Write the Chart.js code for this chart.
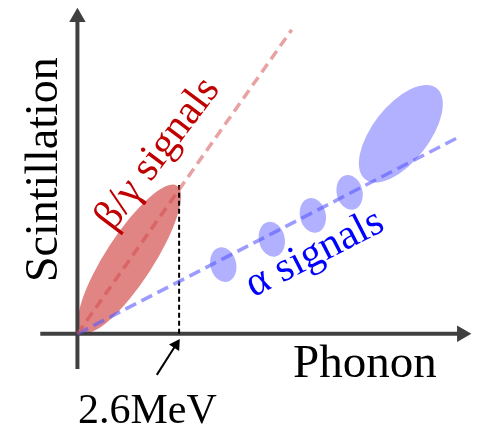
<!DOCTYPE html>
<html lang="en">
<head>
    <meta charset="UTF-8">
    <script src="https://cdn.jsdelivr.net/npm/chart.js"></script>
    <title>Scintillation vs Phonon</title>
    <style>
        body { margin: 0; background: #fff; }
    </style>
</head>
<body>
    <canvas id="grafico" width="481" height="430"></canvas>
</body>
</html>
<script>
    // data units: origin of the axes at (0,0), x in MeV-ish units
    const eixoX = [-0.95, 9.83];
    const eixoY = [-0.9, 8.1];

    const betaX = [0, 5.48];
    const betaY = [0, 7.78];
    const alfaX = [0, 9.71];
    const alfaY = [0, 5.01];

    const corte = 2.6;        // 2.6MeV
    const corteTopo = 3.81;
    const setaX = [2.03, 2.52];
    const setaY = [-1.05, -0.28];

    // ellipses: center, semi axes, angle (deg)
    const betaBlobX = [1.33];
    const betaBlobY = [1.92];
    const betaBlobA = [2.23];
    const betaBlobB = [0.61];
    const betaBlobAng = [57];

    const alfaBlobX = [3.73, 4.97, 6.02, 6.96, 8.27];
    const alfaBlobY = [1.77, 2.42, 3.03, 3.62, 5.12];
    const alfaBlobA = [0.45, 0.45, 0.45, 0.45, 1.48];
    const alfaBlobB = [0.33, 0.33, 0.33, 0.33, 0.72];
    const alfaBlobAng = [103, 103, 103, 103, 52];

    const textos = ['Scintillation', 'Phonon', '2.6MeV', 'β/γ signals', 'α signals'];
    const textoX = [-0.52, 7.35, 1.79, 2.06, 6.07];
    const textoY = [4.2, -1.1, -2.28, 4.6, 2.05];
    const textoAng = [-90, 0, 0, -53, -27];

    const corAlfa = 'rgba(90,90,255,0.47)';
    const corBeta = 'rgba(205,50,50,0.6)';
    const corTexto = ['#000', '#000', '#000', '#c00000', '#0000ff'];
    const tamTexto = [46, 47, 42, 42, 42];
    const baseTexto = ['alphabetic', 'alphabetic', 'alphabetic', 'middle', 'middle'];

    function pontos(xs, ys) {
        return xs.map((x, i) => ({ x: x, y: ys[i] }));
    }

    const elipses = {
        id: 'elipses',
        beforeDatasetsDraw(chart) {
            const ctx = chart.ctx;
            const sx = chart.scales.x, sy = chart.scales.y;
            const u = sx.getPixelForValue(1) - sx.getPixelForValue(0);
            function desenha(X, Y, A, B, ANG, cor) {
                ctx.save();
                ctx.fillStyle = cor;
                X.forEach((x, i) => {
                    ctx.beginPath();
                    ctx.ellipse(sx.getPixelForValue(x), sy.getPixelForValue(Y[i]),
                        A[i] * u, B[i] * u, -ANG[i] * Math.PI / 180, 0, 2 * Math.PI);
                    ctx.fill();
                });
                ctx.restore();
            }
            desenha(betaBlobX, betaBlobY, betaBlobA, betaBlobB, betaBlobAng, corBeta);
            desenha(alfaBlobX, alfaBlobY, alfaBlobA, alfaBlobB, alfaBlobAng, corAlfa);
        }
    };

    const rotulos = {
        id: 'rotulos',
        afterDatasetsDraw(chart) {
            const ctx = chart.ctx;
            const sx = chart.scales.x, sy = chart.scales.y;
            textos.forEach((t, i) => {
                ctx.save();
                ctx.translate(sx.getPixelForValue(textoX[i]), sy.getPixelForValue(textoY[i]));
                ctx.rotate(textoAng[i] * Math.PI / 180);
                ctx.font = tamTexto[i] + 'px "Liberation Serif", "Times New Roman", serif';
                ctx.fillStyle = corTexto[i];
                ctx.textAlign = 'center';
                ctx.textBaseline = baseTexto[i];
                ctx.fillText(t, 0, 0);
                ctx.restore();
            });
        }
    };

    const ctx = document.getElementById('grafico').getContext('2d');
    new Chart(ctx, {
        type: 'scatter',
        data: {
            datasets: [
                {
                    data: pontos(betaX, betaY),
                    showLine: true,
                    borderColor: 'rgba(210,70,70,0.5)',
                    borderWidth: 3.5,
                    borderDash: [10, 6],
                    pointRadius: 0
                },
                {
                    data: pontos(alfaX, alfaY),
                    showLine: true,
                    borderColor: 'rgba(90,90,255,0.6)',
                    borderWidth: 3.5,
                    borderDash: [12, 6],
                    pointRadius: 0
                },
                {
                    data: pontos([corte, corte], [0, corteTopo]),
                    showLine: true,
                    borderColor: '#000',
                    borderWidth: 2,
                    borderDash: [5, 3],
                    pointRadius: 0
                },
                {
                    data: pontos(setaX, setaY),
                    showLine: true,
                    borderColor: '#000',
                    borderWidth: 2,
                    pointStyle: 'triangle',
                    pointRadius: [0, 7],
                    pointRotation: [0, 33],
                    pointBackgroundColor: '#000',
                    pointBorderWidth: 0
                },
                {
                    data: pontos(eixoX, [0, 0]),
                    showLine: true,
                    borderColor: '#404040',
                    borderWidth: 4,
                    pointStyle: 'triangle',
                    pointRadius: [0, 9.5],
                    pointRotation: [0, 90],
                    pointBackgroundColor: '#404040',
                    pointBorderWidth: 0
                },
                {
                    data: pontos([0, 0], eixoY),
                    showLine: true,
                    borderColor: '#404040',
                    borderWidth: 4,
                    pointStyle: 'triangle',
                    pointRadius: [0, 9.5],
                    pointRotation: [0, 0],
                    pointBackgroundColor: '#404040',
                    pointBorderWidth: 0
                }
            ]
        },
        options: {
            responsive: false,
            animation: false,
            layout: { padding: 0, autoPadding: false },
            plugins: {
                legend: { display: false },
                tooltip: { enabled: false }
            },
            scales: {
                x: { type: 'linear', min: -1.98, max: 10.32, display: false },
                y: { type: 'linear', min: -2.46, max: 8.54, display: false }
            }
        },
        plugins: [elipses, rotulos]
    });
</script>
